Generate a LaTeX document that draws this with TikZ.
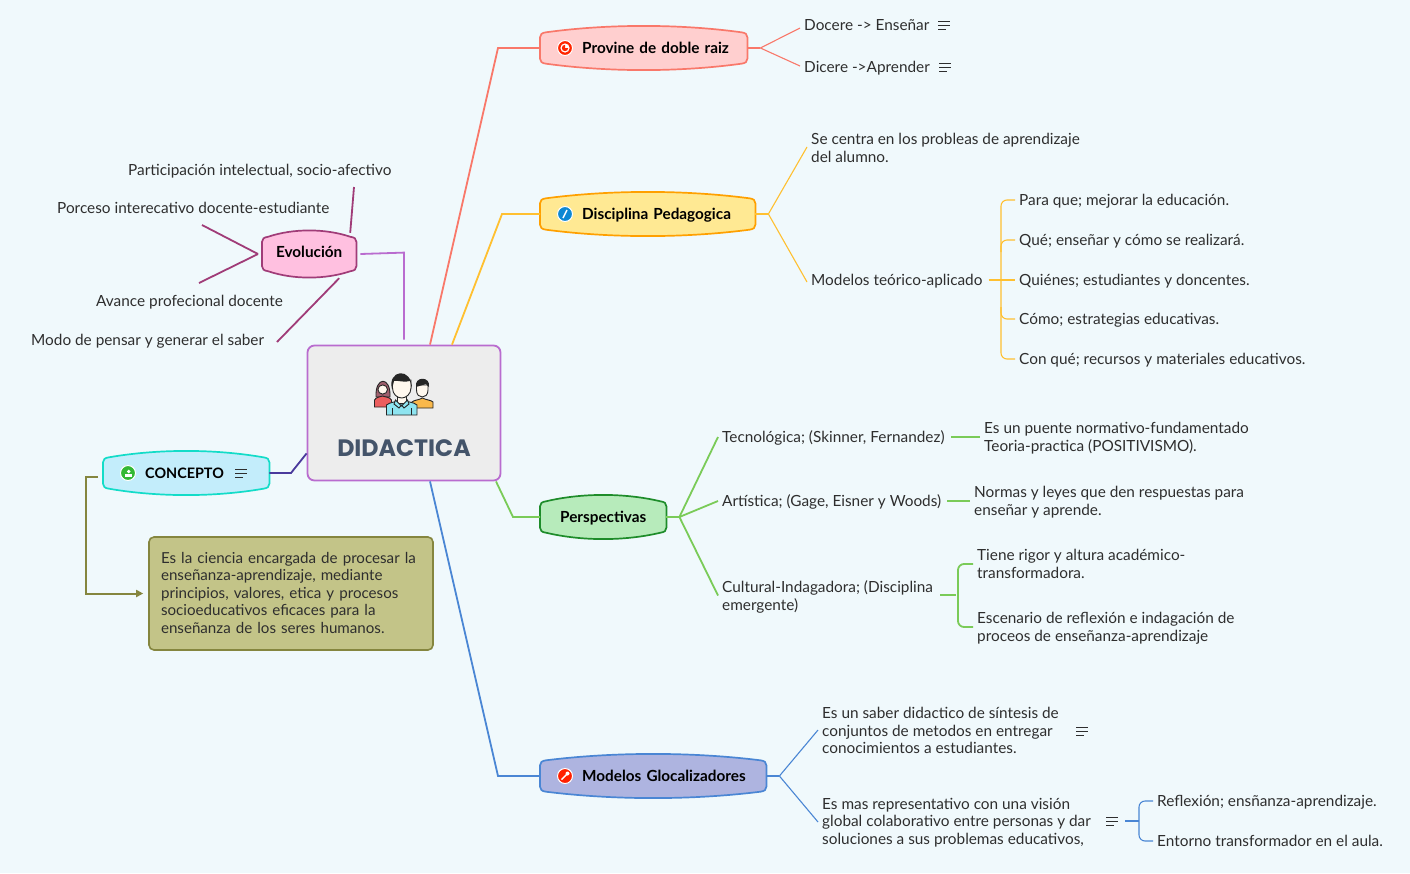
\documentclass[tikz,border=0pt]{standalone}
\usepackage{fontspec}
\setmainfont{Lato}
\newfontfamily\titlefont{Poppins}
\usepackage{tikz}
\usetikzlibrary{arrows.meta,backgrounds,calc,positioning}
\definecolor{bgcol}{HTML}{F0F9FC}
\definecolor{inkcol}{HTML}{2E2E2E}
\definecolor{rootcol}{HTML}{B96CCF}
\definecolor{redline}{HTML}{F9786A}
\definecolor{redfill}{HTML}{FFCFCF}
\definecolor{yelline}{HTML}{FFC030}
\definecolor{yelfill}{HTML}{FFE993}
\definecolor{yeldraw}{HTML}{FFA000}
\definecolor{grnline}{HTML}{7ACB58}
\definecolor{grnfill}{HTML}{B7EBBB}
\definecolor{grndraw}{HTML}{1E8C2A}
\definecolor{bluline}{HTML}{4A86D4}
\definecolor{blufill}{HTML}{AEB4E0}
\definecolor{cyafill}{HTML}{C3EDFB}
\definecolor{cyadraw}{HTML}{13DCC8}
\definecolor{indline}{HTML}{4A3A9C}
\definecolor{pnkfill}{HTML}{FFC0E0}
\definecolor{pnkdraw}{HTML}{A03C78}
\definecolor{olvfill}{HTML}{C3C488}
\definecolor{olvdraw}{HTML}{85863F}
\definecolor{hairwom}{HTML}{A0606E}
\definecolor{skincol}{HTML}{FFF8EE}
\definecolor{shirtred}{HTML}{EB5E5E}
\definecolor{shirtora}{HTML}{F9B84B}
\definecolor{shirtcya}{HTML}{8EE4F0}
\tikzset{
  txt/.style={inner sep=4pt,anchor=west,align=left,text=inkcol,
    font=\fontsize{15.35}{17.8}\selectfont,
    execute at begin node=\rule[-3.3pt]{0pt}{17.6pt},execute at end node=\rule[-3.3pt]{0pt}{17.6pt}},
  topic/.style={anchor=west,inner xsep=0pt,inner ysep=0pt,minimum height=43pt,
    text width=#1,align=left,font=\fontsize{15.3}{17}\selectfont\bfseries,
    execute at begin node=\rule[-3.5pt]{0pt}{17.5pt}},
  notes/.pic={\draw[inkcol,line width=.9pt] (0,-4) -- (12,-4) (0,0) -- (12,0) (0,4) -- (8,4);},
  disc/.style={circle,draw=white,line width=1pt,minimum size=15pt,inner sep=0pt,fill=#1},
  main/.style={line width=1.8pt,#1},
  sub/.style={line width=1.1pt,#1}
}
\begin{document}
\begin{tikzpicture}[x=1pt,y=-1pt]
   \useasboundingbox (0,0) rectangle (1410,873);
   \node[draw=rootcol,fill=black!7,line width=1.8pt,rounded corners=7pt,minimum width=193pt,minimum height=135pt,inner sep=0pt] (didactica) at (404,413) {};
   \node[inner sep=0pt] (title) at (404,448) {\fontsize{23.7}{28}\selectfont\titlefont\bfseries\color[HTML]{44546A}DIDACTICA};
   % people
   \begin{scope}[draw=black!85,line width=.9pt]
     \filldraw[fill=hairwom] (376,397) .. controls (375,376) and (391,376) .. (390,397) -- cycle;
     \filldraw[fill=shirtred] (374.5,407) -- (374.5,400) .. controls (376,397) and (380,397) .. (382.5,396) .. controls (385,397) and (390,397) .. (391.5,400) -- (391.5,407) -- cycle;
     \filldraw[fill=skincol] (382.7,389.5) circle[x radius=4.8,y radius=4.6];
     \filldraw[fill=shirtora] (412,408) -- (412,402) .. controls (414,400) and (419,400) .. (422.5,398) .. controls (426,400) and (431,400) .. (433,402) -- (433,408) -- cycle;
     \filldraw[fill=skincol] (416.5,385) -- (428,385) -- (428,390) .. controls (428,395) and (425,397) .. (422.3,397) .. controls (419.5,397) and (416.5,395) .. (416.5,390) -- cycle;
     \fill[black!85] (416,387) .. controls (414,376) and (431,376) .. (429,387) -- (426,384) -- cycle;
     \filldraw[fill=shirtcya] (386.5,415) -- (386.5,405) .. controls (390,402) and (396,402) .. (401.5,400) .. controls (407,402) and (414,402) .. (417,405) -- (417,415) -- cycle;
     \draw (392,415) -- (392,408) (411,415) -- (411,408);
     \filldraw[fill=skincol] (397,396) rectangle (406,403);
     \filldraw[fill=shirtcya] (395.5,400) -- (401.5,406) -- (407.5,400) -- (409,404) -- (404,408) -- (401.5,405) -- (399,408) -- (394,404) -- cycle;
     \filldraw[fill=skincol] (392.5,380) -- (411,380) -- (411,388) .. controls (411,394) and (406,398) .. (401.7,398) .. controls (397,398) and (392.5,394) .. (392.5,388) -- cycle;
     \fill[black!85] (392,389) .. controls (387,370) and (412,366) .. (412,389) -- (410,381) .. controls (404,383) and (398,380) .. (394,381) -- cycle;
   \end{scope}

   \node[topic=207pt] (provine) at (540,48) {\hspace*{42pt}Provine de doble raiz};
   \node[topic=215pt] (disciplina) at (540,214) {\hspace*{42pt}Disciplina Pedagogica};
   \node[topic=126pt,align=center] (perspectivas) at (540,517) {Perspectivas};
   \node[topic=226pt] (modelos) at (540,776) {\hspace*{42pt}Modelos Glocalizadores};
   \node[topic=166pt,font=\fontsize{14.4}{17}\selectfont\bfseries] (concepto) at (103,473) {\hspace*{42pt}CONCEPTO};
   \node[topic=94pt,align=center,minimum height=46pt] (evolucion) at (262,254) {\raisebox{2pt}{Evolución}};
   \node[draw=olvdraw,fill=olvfill,line width=1.6pt,rounded corners=5pt,minimum width=284pt,minimum height=113pt,inner sep=0pt,text width=260pt,align=left,text=inkcol,font=\fontsize{15.15}{17.5}\selectfont] (nota) at (291,593.5) {Es la ciencia encargada de procesar la\\enseñanza-aprendizaje, mediante\\principios, valores, etica y procesos\\socioeducativos eficaces para la\\enseñanza de los seres humanos.\rule[-2pt]{0pt}{1pt}};

   \begin{pgfonlayer}{background}
     \fill[bgcol] (0,0) rectangle (1410,873);
     \foreach \n/\f/\d in {provine/redfill/redline,disciplina/yelfill/yeldraw,perspectivas/grnfill/grndraw,modelos/blufill/bluline,concepto/cyafill/cyadraw,evolucion/pnkfill/pnkdraw}
       \draw[draw=\d,fill=\f,line width=1.7pt]
         ($(\n.north west)+(0,11)$) .. controls ($(\n.north west)+(0,8)$) and ($(\n.north west)+(2,6.5)$) .. ($(\n.north west)+(6,6)$)
         .. controls ($(\n.north west)!.33!(\n.north east)+(0,-2.5)$) and ($(\n.north west)!.67!(\n.north east)+(0,-2.5)$) .. ($(\n.north east)+(-6,6)$)
         .. controls ($(\n.north east)+(-2,6.5)$) and ($(\n.north east)+(0,8)$) .. ($(\n.north east)+(0,11)$)
         -- ($(\n.south east)+(0,-11)$) .. controls ($(\n.south east)+(0,-8)$) and ($(\n.south east)+(-2,-6.5)$) .. ($(\n.south east)+(-6,-6)$)
         .. controls ($(\n.south west)!.67!(\n.south east)+(0,2.5)$) and ($(\n.south west)!.33!(\n.south east)+(0,2.5)$) .. ($(\n.south west)+(6,-6)$)
         .. controls ($(\n.south west)+(2,-6.5)$) and ($(\n.south west)+(0,-8)$) .. ($(\n.south west)+(0,-11)$) -- cycle;
   \end{pgfonlayer}

   \node[disc=red!70!orange] (iconA) at (565,48) {};
   \fill[white] (iconA.center) circle[radius=4.6];
   \fill[red!70!orange] (iconA.center) -- ++(0,-3.2) arc[start angle=-90,end angle=-360,radius=3.2] -- cycle;
   \node[disc=cyan!70!blue] (iconB) at (565,214) {};
   \draw[white,line width=1.4pt] ([xshift=-2pt,yshift=-4pt]iconB.center) -- ([xshift=2pt,yshift=4pt]iconB.center);
   \node[disc=red!75!orange] (iconC) at (565,776) {};
   \draw[white,line width=1.4pt] ([xshift=-3.5pt,yshift=-3.5pt]iconC.center) -- ([xshift=2pt,yshift=2pt]iconC.center);
   \fill[white] ([xshift=2.5pt,yshift=2.5pt]iconC.center) circle[radius=2];
   \node[disc=green!65!black!80!white] (iconD) at (128,473) {};
   \fill[white] ([xshift=.7pt,yshift=1.5pt]iconD.center) circle[radius=1.9];
   \fill[white] ([xshift=-3pt,yshift=-4pt]iconD.center) rectangle ([xshift=4pt,yshift=-.8pt]iconD.center);

   \draw[main=redline] ([xshift=26pt]didactica.north) -- (498,48) -- (provine.west);
   \draw[main=yelline] ([xshift=48pt]didactica.north) -- (502,214) -- (disciplina.west);
   \draw[main=grnline] ([xshift=92pt]didactica.south) -- (513,517) -- (perspectivas.west);
   \draw[main=bluline] ([xshift=26pt]didactica.south) -- (498,776) -- (modelos.west);
   \draw[main=rootcol] ([yshift=5pt]didactica.north) -- ++(0,-87) -- ([xshift=4pt]evolucion.east);
   \draw[main=indline] ([yshift=28pt]didactica.south west) -- (291,473) -- (concepto.east);
   \draw[olvdraw,line width=2pt,-{Triangle[width=7pt,length=7pt]},shorten >=5pt] ([xshift=-5pt,yshift=-4pt]concepto.west) -- ++(-12,0) |- (nota.west);

   \node[txt] (docere) at (800,25) {Docere -> Enseñar};
   \node[txt,below=42pt of docere.west,anchor=west] (dicere) {Dicere ->Aprender};
   \pic at (938,25) {notes};
   \pic at (939,67) {notes};
   \coordinate[right=13pt of provine.east] (jprovine);
   \draw[sub=redline] (provine.east) -- (jprovine);
   \draw[sub=redline] (jprovine) -- ([yshift=-3pt]docere.west);
   \draw[sub=redline] (jprovine) -- ([yshift=1pt]dicere.west);

   \node[txt] (centra) at (807,149.5) {Se centra en los probleas de aprendizaje\\del alumno.};
   \node[txt,below=130.5pt of centra.west,anchor=west] (teorico) {Modelos teórico-aplicado};
   \coordinate[right=13pt of disciplina.east] (jdisciplina);
   \draw[sub=yelline] (disciplina.east) -- (jdisciplina);
   \draw[sub=yelline] (jdisciplina) -- ([yshift=2.5pt]centra.west);
   \draw[sub=yelline] (jdisciplina) -- ([yshift=-2pt]teorico.west);
   \node[txt] (para) at (1015,200) {Para que; mejorar la educación.};
   \node[txt,below=40pt of para.west,anchor=west] (que) {Qué; enseñar y cómo se realizará.};
   \node[txt,below=40pt of que.west,anchor=west] (quienes) {Quiénes; estudiantes y doncentes.};
   \node[txt,below=39pt of quienes.west,anchor=west] (como) {Cómo; estrategias educativas.};
   \node[txt,below=40pt of como.west,anchor=west] (conque) {Con qué; recursos y materiales educativos.};
   \draw[sub=yelline] ([xshift=2pt]teorico.east) -- (quienes.west);
   \draw[sub=yelline,rounded corners=6pt] (para.west) -- ++(-14,0) -- ([xshift=-14pt]conque.west) -- (conque.west);
   \draw[sub=yelline,rounded corners=6pt] (que.west) -- ++(-14,0) -- ++(0,12);
   \draw[sub=yelline,rounded corners=6pt] (como.west) -- ++(-14,0) -- ++(0,-12);

   \node[txt] (tecno) at (718,437) {Tecnológica; (Skinner, Fernandez)};
   \node[txt,below=64pt of tecno.west,anchor=west] (artis) {Artística; (Gage, Eisner y Woods)};
   \node[txt,below=160pt of tecno.west,anchor=west] (cultura) {Cultural-Indagadora; (Disciplina\\emergente)};
   \coordinate[right=13pt of perspectivas.east] (jpersp);
   \draw[main=grnline] (perspectivas.east) -- (jpersp);
   \draw[main=grnline] (jpersp) -- (tecno.west);
   \draw[main=grnline] (jpersp) -- (artis.west);
   \draw[main=grnline] (jpersp) -- ([yshift=1.5pt]cultura.west);
   \node[txt] (puente) at (980,438.5) {Es un puente normativo-fundamentado\\Teoria-practica (POSITIVISMO).};
   \node[txt] (normas) at (970,502.5) {Normas y leyes que den respuestas para\\enseñar y aprende.};
   \node[txt] (rigor) at (973,565.5) {Tiene rigor y altura académico-\\transformadora.};
   \node[txt,below=63pt of rigor.west,anchor=west] (escenario) {Escenario de reflexión e indagación de\\proceos de enseñanza-aprendizaje};
   \draw[main=grnline] ([xshift=2pt]tecno.east) -- ([yshift=1.5pt]puente.west);
   \draw[main=grnline] ([xshift=2pt]artis.east) -- ([yshift=1.5pt]normas.west);
   \draw[main=grnline] ([xshift=3pt,yshift=2pt]cultura.east) -- ++(16,0) coordinate (jcultura);
   \draw[main=grnline,rounded corners=6pt] ([yshift=1.5pt]rigor.west) -- ++(-15,0) -- ([xshift=-15pt,yshift=1.5pt]escenario.west) -- ([yshift=1.5pt]escenario.west);

   \node[txt] (saber) at (818,732) {Es un saber didactico de síntesis de\\conjuntos de metodos en entregar\\conocimientos a estudiantes.};
   \node[txt,below=91pt of saber.west,anchor=west] (vision) {Es mas representativo con una visión\\global colaborativo entre personas y dar\\soluciones a sus problemas educativos,};
   \pic at (1076,731) {notes};
   \pic at (1106,821) {notes};
   \coordinate[right=13pt of modelos.east] (jmodelos);
   \draw[sub=bluline] (modelos.east) -- (jmodelos);
   \draw[sub=bluline] (jmodelos) -- ([yshift=2pt]saber.west);
   \draw[sub=bluline] (jmodelos) -- ([yshift=1pt]vision.west);
   \node[txt] (reflexion) at (1153,801) {Reflexión; ensñanza-aprendizaje.};
   \node[txt,below=40pt of reflexion.west,anchor=west] (entorno) {Entorno transformador en el aula.};
   \draw[sub=bluline] ([xshift=307pt,yshift=2pt]vision.west) -- ++(14,0) coordinate (jvision);
   \draw[sub=bluline,rounded corners=6pt] (reflexion.west) -- ++(-14,0) -- ([xshift=-14pt]entorno.west) -- (entorno.west);

   \pic at (235,473) {notes};

   \node[txt] (participa) at (124,170) {Participación intelectual, socio-afectivo};
   \node[txt] (porceso) at (53,208) {Porceso interecativo docente-estudiante};
   \node[txt] (avance) at (92,301) {Avance profecional docente};
   \node[txt] (modo) at (27,340) {Modo de pensar y generar el saber};
   \draw[main=pnkdraw] ([xshift=41pt,yshift=-2pt]evolucion.north) -- (354,187);
   \draw[main=pnkdraw] ([xshift=-4pt]evolucion.west) -- (202,225);
   \draw[main=pnkdraw] ([xshift=-4pt]evolucion.west) -- (199,283);
   \draw[main=pnkdraw] ([xshift=30pt,yshift=-1pt]evolucion.south) -- (277,342);
\end{tikzpicture}
\end{document}
